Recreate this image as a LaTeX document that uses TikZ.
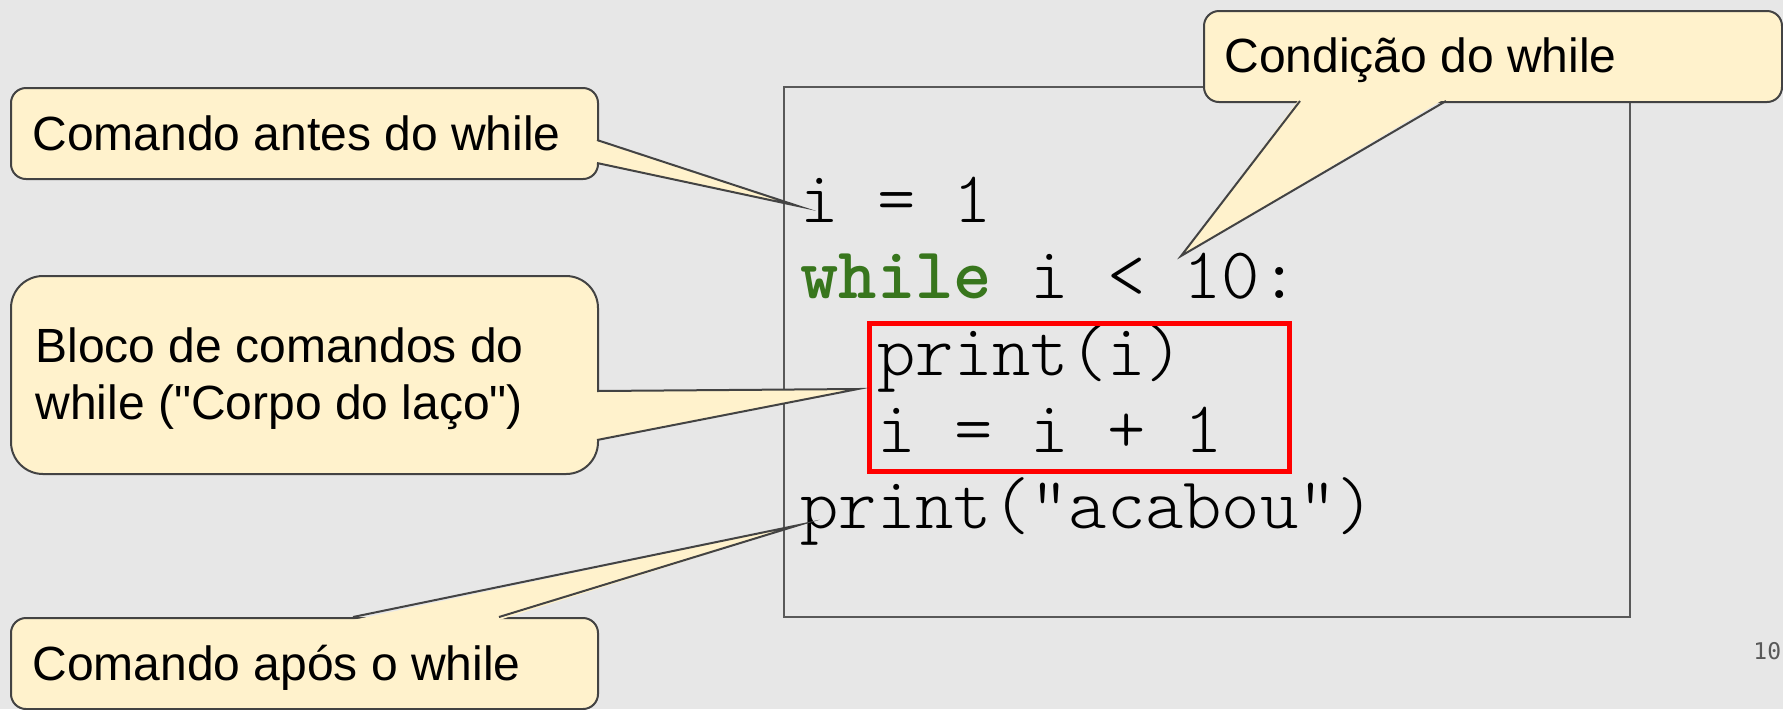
\documentclass[tikz,border=0pt]{standalone}
\usepackage{fontspec}
\setmainfont{Liberation Sans}
\newfontfamily\pagefont{DejaVu Sans Mono}
\usetikzlibrary{calc}
\definecolor{bg}{RGB}{231,231,231}
\definecolor{callfill}{RGB}{255,242,204}
\definecolor{callline}{RGB}{67,67,67}
\definecolor{boxline}{RGB}{89,89,89}
\definecolor{kwgreen}{RGB}{56,118,29}
\definecolor{pagegray}{RGB}{89,89,89}
\definecolor{hired}{RGB}{255,0,0}
\newcommand{\codeface}{\ttfamily\fontseries{l}\selectfont\fontsize{36.5}{40}\selectfont}
\begin{document}
\begin{tikzpicture}[x=0.5pt,y=-0.5pt,
  calloutbox/.style={draw=callline, fill=callfill, line width=1pt, rectangle, inner sep=0pt, anchor=north west, minimum width=293.5pt},
  calltext/.style={font=\fontsize{24}{28.5}\selectfont, inner sep=0pt, anchor=base west, text=black},
  codeline/.style={font=\codeface, inner sep=0pt, anchor=base west, text=black},
  tailfill/.style={fill=callfill},
  tailline/.style={draw=callline, line width=1pt, line join=miter, miter limit=40},
  codebox/.style={draw=boxline, line width=1pt},
  bodybox/.style={draw=hired, line width=2.5pt}]
\useasboundingbox (0,0) rectangle (1783,709);
\begin{scope}
\clip (0,0) rectangle (1783,709);
\fill[bg] (0,0) rectangle (1783,709);

% code frame
\draw[codebox] (784,87) rectangle (1630,617);

% code lines
\node[codeline] (l1) at (800,222) {i = 1};
\node[codeline] (l2) at (800,298) {\textcolor{kwgreen}{\bfseries while} i < 10:};
\node[codeline] (l3) at (877,375) {print(i)};
\node[codeline] (l4) at (877,452) {i = i + 1};
\node[codeline] (l5) at (800,528) {print(\textquotedbl acabou\textquotedbl)};

% loop body frame
\draw[bodybox] (869,323) rectangle (1289,471);

% callout 1
\node[calloutbox, minimum height=45.5pt, rounded corners=7.5pt] (c1) at (10,87) {};
\node[calltext] (t1) at (32,150) {Comando antes do while};
\coordinate (c1a) at (597,140);
\coordinate (c1b) at (597,163);
\coordinate (c1tip) at (798,206);
\fill[tailfill] ($(c1a)+(-3,0)$) -- (c1tip) -- ($(c1b)+(-3,0)$) -- cycle;
\draw[tailline] (c1a) -- (c1tip) -- (c1b);

% callout 2
\node[calloutbox, minimum height=99pt, rounded corners=16pt] (c2) at (10,275) {};
\node[calltext] (t2a) at (35,362) {Bloco de comandos do};
\node[calltext] (t2b) at (35,419) {while (\textquotedbl Corpo do laço\textquotedbl)};
\coordinate (c2a) at (597,391);
\coordinate (c2b) at (597,440);
\coordinate (c2tip) at (858,389);
\fill[tailfill] ($(c2a)+(-3,0)$) -- (c2tip) -- ($(c2b)+(-3,0)$) -- cycle;
\draw[tailline] (c2a) -- (c2tip) -- (c2b);

% callout 3
\node[calloutbox, minimum width=289pt, minimum height=45.5pt, rounded corners=7.5pt] (c3) at (1203,10) {};
\node[calltext] (t3) at (1224,72) {Condição do while};
\coordinate (c3a) at (1300,101);
\coordinate (c3b) at (1446,101);
\coordinate (c3tip) at (1181,256);
\fill[tailfill] ($(c3a)+(0,-3)$) -- (c3tip) -- ($(c3b)+(0,-3)$) -- cycle;
\draw[tailline] (c3a) -- (c3tip) -- (c3b);

% callout 4
\node[calloutbox, minimum height=45.5pt, rounded corners=7.5pt] (c4) at (10,617) {};
\node[calltext] (t4) at (32,680) {Comando após o while};
\coordinate (c4a) at (353,617);
\coordinate (c4b) at (499,617);
\coordinate (c4tip) at (799,525);
\fill[tailfill] ($(c4a)+(0,3)$) -- (c4tip) -- ($(c4b)+(0,3)$) -- cycle;
\draw[tailline] (c4a) -- (c4tip) -- (c4b);

% page number
\node[font=\pagefont\fontsize{11.5}{13}\selectfont, text=pagegray, inner sep=0pt, anchor=base west] (pg) at (1753,659) {10};
\end{scope}
\end{tikzpicture}
\end{document}
